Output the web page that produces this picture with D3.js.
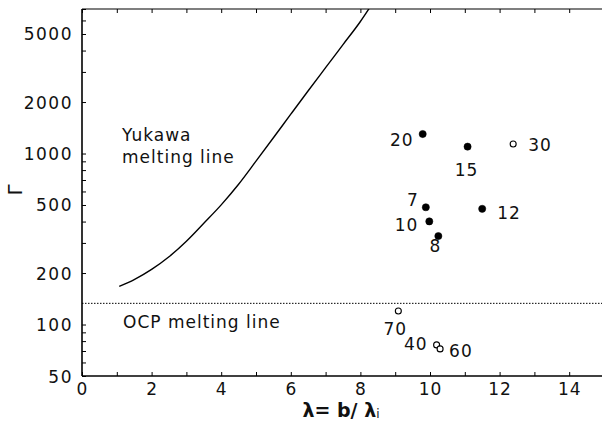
<!DOCTYPE html>
<html><head><meta charset="utf-8">
<script src="https://cdn.jsdelivr.net/npm/d3@7"></script>
<style>
body{margin:0;background:#fff;}
text{font-family:"DejaVu Sans",sans-serif;fill:#111;}
</style></head>
<body><svg id="c" width="602" height="423"></svg>
<script>
// ---- data ----
const yukawaX = [1.07,1.5,2.0,2.5,3.0,3.5,4.0,4.5,5.0,5.5,6.0,6.5,7.0,7.5,8.0,8.3];
const yukawaG = [167,183,210,249,307,391,501,661,902,1236,1698,2328,3177,4335,5916,7300];
const ocpGamma = 133;
const ptLabels = ["20","15","30","7","12","10","8","70","40","60"];
const ptX      = [9.79,11.08,12.39,9.88,11.50,9.98,10.24,9.09,10.19,10.29];
const ptG      = [1300,1097,1137,485,475,401,329,120,76,72];
const ptOpen   = [false,false,true,false,false,false,false,true,true,true];
const xTicks = [0,2,4,6,8,10,12,14];
const yTicks = [50,100,200,500,1000,2000,5000];

// label placement (anchor, dx, dy) per point
const place = {
 "20":["end",-9,6], "15":["middle",-1,23], "30":["start",15,1], "7":["middle",-13,-7],
 "12":["start",15,4], "10":["end",-11,4], "8":["middle",-3,10], "70":["middle",-3,18],
 "40":["end",-9,-1], "60":["start",9,2]
};

const svg = d3.select("#c");
const L=82, R=604, T=9, B=376;
const x = d3.scaleLinear().domain([0,15]).range([L,R]);
const y = d3.scaleLog().domain([50,7000]).range([B,T]);

svg.append("defs").append("clipPath").attr("id","clip")
  .append("rect").attr("x",L).attr("y",T).attr("width",R-L).attr("height",B-T);

// minor y ticks
const yMinor = [];
[10,100,1000].forEach(d=>{for(let k=1;k<10;k++){const v=d*k; if(v>=50&&v<=7000) yMinor.push(v);}});

const g = svg.append("g");
g.append("g").attr("transform",`translate(0,${B})`)
 .call(d3.axisBottom(x).tickValues(d3.range(0,16)).tickSize(-4).tickFormat(d=>xTicks.includes(d)?d:""))
 .call(a=>{a.selectAll("text").attr("font-size",17).attr("letter-spacing",1).attr("dy",null).attr("y",13).attr("dominant-baseline","central");});
g.append("g").attr("transform",`translate(0,${T})`)
 .call(d3.axisTop(x).tickValues(d3.range(0,16)).tickSize(-4).tickFormat(""));
g.append("g").attr("transform",`translate(${L},0)`)
 .call(d3.axisLeft(y).tickValues(yMinor).tickSize(-4).tickFormat(d=>yTicks.includes(d)?d:"").tickPadding(9))
 .call(a=>{a.selectAll("text").attr("font-size",17).attr("letter-spacing",1.5).attr("dy",null).attr("dominant-baseline","central");});
svg.selectAll(".domain").remove();
// frame
svg.append("line").attr("x1",L).attr("x2",R).attr("y1",B).attr("y2",B).attr("stroke","#000").attr("stroke-width",1.6);
svg.append("line").attr("x1",L).attr("x2",R).attr("y1",T).attr("y2",T).attr("stroke","#000").attr("stroke-width",1.2);
svg.append("line").attr("x1",L).attr("x2",L).attr("y1",T).attr("y2",B).attr("stroke","#000").attr("stroke-width",1.6);

// Yukawa melting curve
const line = d3.line().x((d,i)=>x(yukawaX[i])).y((d,i)=>y(yukawaG[i])).curve(d3.curveMonotoneX);
svg.append("path").attr("clip-path","url(#clip)").attr("d",line(yukawaX))
 .attr("fill","none").attr("stroke","#000").attr("stroke-width",1.4);

// OCP line
svg.append("line").attr("x1",L).attr("x2",R).attr("y1",y(ocpGamma)).attr("y2",y(ocpGamma))
 .attr("stroke","#000").attr("stroke-width",1).attr("stroke-dasharray","1.5,1.5");

// points
ptLabels.forEach((lab,i)=>{
  const cx=x(ptX[i]), cy=y(ptG[i]);
  svg.append("circle").attr("cx",cx).attr("cy",cy).attr("r",ptOpen[i]?3:3.6)
    .attr("fill",ptOpen[i]?"#fff":"#000").attr("stroke","#000").attr("stroke-width",ptOpen[i]?1.1:0.5);
  const p=place[lab];
  svg.append("text").attr("x",cx+p[1]).attr("y",cy+p[2]).attr("text-anchor",p[0])
    .attr("dominant-baseline","central").attr("font-size",17).attr("letter-spacing",1).text(lab);
});

// annotations
const ann = (t,xx,yy)=>svg.append("text").attr("x",xx).attr("y",yy).attr("dominant-baseline","central")
  .attr("font-size",17).attr("letter-spacing",1).text(t);
ann("Yukawa",122,135);
ann("melting line",122,157);
ann("OCP melting line",123,322);

// axis titles
svg.append("text").attr("transform","translate(15,190) rotate(-90)").attr("text-anchor","middle")
 .attr("dominant-baseline","central").attr("font-family","DejaVu Serif").attr("font-size",20).text("Γ");
const xt = svg.append("text").attr("x",341).attr("y",410).attr("text-anchor","middle")
 .attr("dominant-baseline","central").attr("font-size",19).attr("font-weight","bold");
xt.append("tspan").text("λ= b/ λ");
xt.append("tspan").attr("font-size",12).attr("dy",4).attr("font-weight","normal").text("i");
</script></body></html>
